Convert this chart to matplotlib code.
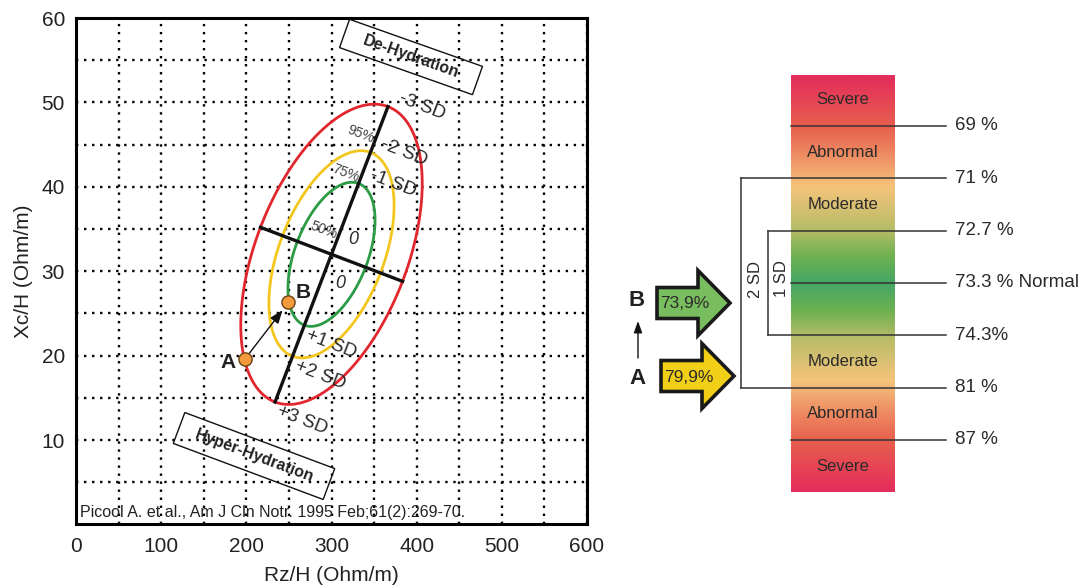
import numpy as np
import matplotlib.pyplot as plt
from matplotlib.colors import LinearSegmentedColormap
from matplotlib.patches import Polygon

plt.rcParams['font.family'] = ['Liberation Sans', 'DejaVu Sans']

W, H = 1081, 586

# RXc graph, tolerance ellipses (Piccoli 1995)
center = (300.0, 32.0)
major_half = (66.3, 17.5)      # half major axis, towards the -SD end
minor_half = (83.4, -3.2)      # half minor axis
ellipse_pct = ['50%', '75%', '95%']
ellipse_scale = [0.48, 0.69, 1.0]
ellipse_colors = ['#2b9b45', '#f3c61e', '#e2262d']
sd_top = ['-1 SD', '-2 SD', '-3 SD']
sd_bot = ['+1 SD', '+2 SD', '+3 SD']

pt_names = ['A', 'B']
pt_rz = [198.4, 249.5]
pt_xc = [19.6, 26.3]

# hydration scale
level_labels = ['69 %', '71 %', '72.7 %', '73.3 % Normal', '74.3%', '81 %', '87 %']
level_start = ['bar', '2sd', '1sd', 'bar', '1sd', '2sd', 'bar']
band_labels = ['Severe', 'Abnormal', 'Moderate', '', '', 'Moderate', 'Abnormal', 'Severe']
patient_names = ['B', 'A']
patient_vals = ['73,9%', '79,9%']
patient_colors = ['#79be5e', '#f1cf17']

fig = plt.figure(figsize=(W / 100, H / 100), dpi=100)
ax = fig.add_axes([76 / W, 1 - 524.4 / H, 511 / W, 506.4 / H])

ax.set_xlim(0, 600)
ax.set_ylim(0, 60)
ax.set_xticks(np.arange(0, 601, 100))
ax.set_xticks(np.arange(50, 600, 100), minor=True)
ax.set_yticks(np.arange(10, 61, 10))
ax.set_yticks(np.arange(5, 60, 10), minor=True)
ax.tick_params(which='both', length=0, labelsize=15, colors='#222222')
ax.tick_params(axis='x', pad=9)
ax.tick_params(axis='y', pad=8)
ax.grid(which='both', color='black', linestyle=(0, (1, 2.4)), linewidth=1.7)
ax.set_axisbelow(True)
for s in ax.spines.values():
    s.set_linewidth(2.2)
ax.set_xlabel('Rz/H (Ohm/m)', fontsize=15, labelpad=7, color='#222222')
ax.set_ylabel('Xc/H (Ohm/m)', fontsize=15, labelpad=6, color='#222222')

c = np.array(center)
M = np.array(major_half)
m = np.array(minor_half)
t = np.linspace(0, 2 * np.pi, 400)
for sc, col in zip(ellipse_scale, ellipse_colors):
    pts = c[None, :] + sc * (np.cos(t)[:, None] * M + np.sin(t)[:, None] * m)
    ax.plot(pts[:, 0], pts[:, 1], color=col, lw=2.0, zorder=3)

# axes of the ellipse
ax.plot([c[0] - M[0], c[0] + M[0]], [c[1] - M[1], c[1] + M[1]], color='#111111', lw=2.4, zorder=4)
ax.plot([c[0] - m[0], c[0] + m[0]], [c[1] - m[1], c[1] + m[1]], color='#111111', lw=2.4, zorder=4)

rot = -21
txt = '#2a2a2a'
for sc, lab in zip(ellipse_scale, sd_top):
    p = c + sc * M
    ax.text(p[0] + 40, p[1], lab, fontsize=13.5, rotation=rot, ha='center', va='center',
            color=txt, zorder=5)
for sc, lab in zip(ellipse_scale, sd_bot):
    p = c - sc * M
    ax.text(p[0] + 32, p[1] - 2.2, lab, fontsize=13.5, rotation=rot, ha='center', va='center',
            color=txt, zorder=5)
for s_mid, lab in zip([0.2, 0.58, 0.85], ellipse_pct):
    p = c + s_mid * M
    ax.text(p[0] - 22, p[1] - 0.6, lab, fontsize=10, rotation=rot, ha='center', va='center',
            color='#444444', zorder=5)
ax.text(c[0] + 26, c[1] + 1.7, '0', fontsize=13, style='italic', rotation=0,
        ha='center', va='center', color=txt, zorder=5)
ax.text(c[0] + 10, c[1] - 3.4, '0', fontsize=13, style='italic', rotation=0,
        ha='center', va='center', color=txt, zorder=5)

# patient points A -> B
ax.annotate('', xy=(pt_rz[1], pt_xc[1]), xytext=(pt_rz[0], pt_xc[0]),
            arrowprops=dict(arrowstyle='-|>,head_length=0.8,head_width=0.3', color='#111111',
                            lw=1.0, shrinkA=5, shrinkB=7), zorder=6)
ax.plot(pt_rz, pt_xc, 'o', ms=9.5, mfc='#f39a3a', mec='#6b4317', mew=1.0, zorder=7)
ax.text(pt_rz[0] - 11, pt_xc[0] - 0.4, pt_names[0], fontsize=15, fontweight='bold',
        ha='right', va='center', color='#222222', zorder=7)
ax.text(pt_rz[1] + 8, pt_xc[1] + 1.2, pt_names[1], fontsize=15, fontweight='bold',
        ha='left', va='center', color='#222222', zorder=7)

ax.text(5, 1.4, 'Picool A. et al., Am J Cln Notr. 1995 Feb;61(2):269-70.', fontsize=11.5,
        color='#222222', ha='left', va='center', zorder=6)

# overlay in pixel coordinates for boxes and the scale
ov = fig.add_axes([0, 0, 1, 1])
ov.set_xlim(0, W)
ov.set_ylim(H, 0)
ov.axis('off')


def tilted_box(cx, cy, L, Hh, ang, label):
    a = np.deg2rad(ang)
    u = np.array([np.cos(a), np.sin(a)])
    v = np.array([-np.sin(a), np.cos(a)])
    cc = np.array([cx, cy])
    corners = [cc - L / 2 * u - Hh / 2 * v, cc + L / 2 * u - Hh / 2 * v,
               cc + L / 2 * u + Hh / 2 * v, cc - L / 2 * u + Hh / 2 * v]
    ov.add_patch(Polygon(corners, closed=True, fill=False, ec='#111111', lw=1.0))
    ov.text(cx, cy, label, fontsize=11.5, fontweight='bold', rotation=-ang,
            ha='center', va='center', color='#222222')


tilted_box(411, 57, 141, 30, 19.5, 'De-Hydration')
tilted_box(254, 456, 160, 33, 20.5, 'Hyper-Hydration')

# hydration scale bar
ly0, dy = 126.0, 52.33


def ly(i):
    return ly0 + dy * i


bar_x0, bar_x1 = 791, 895
stops = [(0.0, '#e42d5c'), (0.124, '#e8604d'), (0.213, '#f09c6b'), (0.266, '#f5c47b'),
         (0.37, '#b7bc67'), (0.435, '#6cb150'), (0.5, '#45a766'), (0.565, '#6cb150'),
         (0.63, '#b7bc67'), (0.734, '#f5c47b'), (0.787, '#f09c6b'), (0.876, '#e8604d'),
         (1.0, '#e42d5c')]
cmap = LinearSegmentedColormap.from_list('hyd', stops)
grad = np.linspace(0, 1, 400)[:, None]
ov.imshow(grad, cmap=cmap, aspect='auto', extent=[bar_x0, bar_x1, ly(7), ly(-0.95)],
          interpolation='bilinear', zorder=1)
ov.set_xlim(0, W)
ov.set_ylim(H, 0)

for i, lab in enumerate(band_labels):
    if lab:
        ov.text((bar_x0 + bar_x1) / 2, ly(i - 0.5), lab, fontsize=12, ha='center',
                va='center', color='#2a2a2a', zorder=3)

starts = {'bar': bar_x0, '1sd': 768, '2sd': 741}
line_end = 946
for i, (lab, st) in enumerate(zip(level_labels, level_start)):
    ov.plot([starts[st], line_end], [ly(i), ly(i)], color='#333333', lw=1.1, zorder=2)
    ov.text(955, ly(i), lab, fontsize=13.5, ha='left', va='center', color='#2a2a2a')

ov.plot([741, 741], [ly(1), ly(5)], color='#333333', lw=1.1)
ov.plot([768, 768], [ly(2), ly(4)], color='#333333', lw=1.1)
ov.text(755, 279, '2 SD', fontsize=12, rotation=90, ha='center', va='center', color='#2a2a2a')
ov.text(782, 279, '1 SD', fontsize=12, rotation=90, ha='center', va='center', color='#2a2a2a')


def block_arrow(tip_x, tip_y, color):
    body_len, head_len, body_h, head_h = 41, 32, 15.5, 32.5
    bx = tip_x - head_len
    verts = [(bx - body_len, tip_y - body_h), (bx, tip_y - body_h), (bx, tip_y - head_h),
             (tip_x, tip_y), (bx, tip_y + head_h), (bx, tip_y + body_h),
             (bx - body_len, tip_y + body_h)]
    ov.add_patch(Polygon(verts, closed=True, fc=color, ec='#1a1a1a', lw=2.6,
                         joinstyle='miter', zorder=3))
    return bx - body_len


for (tx, ty), name, val, col in zip([(730, 303), (734, 376)], patient_names,
                                    patient_vals, patient_colors):
    left = block_arrow(tx, ty, col)
    ov.text(left + 28, ty + 1, val, fontsize=12.5, ha='center', va='center',
            color='#2a2a2a', zorder=4)
    ov.text(637, ty - 2 if name == 'B' else ty + 2, name, fontsize=16, fontweight='bold',
            ha='center', va='center', color='#222222')

ov.annotate('', xy=(638, 321), xytext=(638, 358),
            arrowprops=dict(arrowstyle='-|>,head_length=0.7,head_width=0.25',
                            color='#111111', lw=1.0, shrinkA=0, shrinkB=0))

fig.savefig('out.png', dpi=100)
